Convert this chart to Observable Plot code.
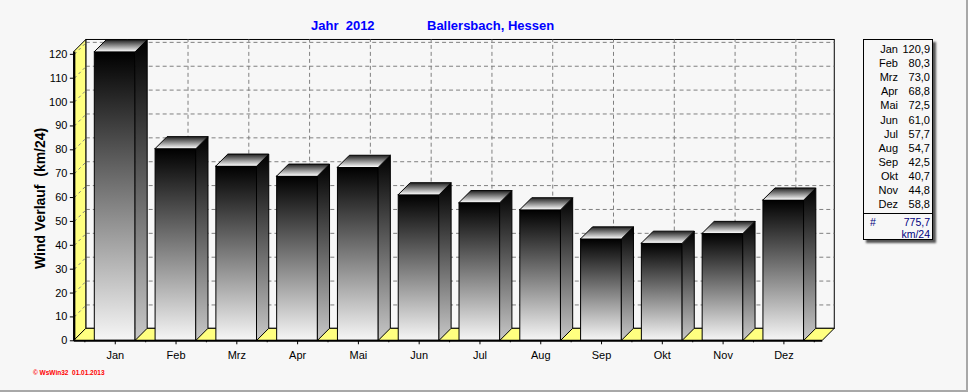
<!DOCTYPE html>
<html><head><meta charset="utf-8">
<script src="https://cdn.jsdelivr.net/npm/d3@7"></script>
<script src="https://cdn.jsdelivr.net/npm/@observablehq/plot@0.6"></script>
<style>
html,body{margin:0;padding:0;background:#f7f7f7;}
#wrap{position:relative;width:968px;height:392px;overflow:hidden;box-sizing:border-box;
  border-right:2px solid #a8a8a8;border-bottom:2px solid #a8a8a8;background:#f7f7f7;
  font-family:"Liberation Sans",Arial,sans-serif;}
#wrap svg.plot{position:absolute;left:0;top:0;}
.title{position:absolute;top:18px;font-size:13px;font-weight:bold;color:#0000ff;line-height:15px;white-space:pre;}
#legend{position:absolute;left:863px;top:39px;width:70px;height:201px;border:1px solid #000;box-sizing:border-box;
  background:#f7f7f7;box-shadow:3px 3px 2px #555;font-size:11px;line-height:14px;color:#000;}
#legend span{position:absolute;white-space:pre;text-align:right;}
#footer{position:absolute;left:33px;top:369.5px;font-size:6.5px;line-height:6.5px;font-weight:bold;color:#ff0000;white-space:pre;}
</style></head>
<body>
<svg width="0" height="0" style="position:absolute">
  <defs>
    <linearGradient id="gFront" x1="0" y1="0" x2="0" y2="1">
      <stop offset="0" stop-color="#000000"/><stop offset="1" stop-color="#f6f6f6"/>
    </linearGradient>
    <linearGradient id="gSide" x1="0" y1="0" x2="0" y2="1">
      <stop offset="0" stop-color="#000000"/><stop offset="1" stop-color="#c8c8c8"/>
    </linearGradient>
    <linearGradient id="gTop" x1="0" y1="0" x2="0" y2="1">
      <stop offset="0" stop-color="#202020"/><stop offset="1" stop-color="#ffffff"/>
    </linearGradient>
  </defs>
</svg>
<div id="wrap"></div>
<script>
// ---- data ----
const months = ["Jan","Feb","Mrz","Apr","Mai","Jun","Jul","Aug","Sep","Okt","Nov","Dez"];
const values = [120.9, 80.3, 73.0, 68.8, 72.5, 61.0, 57.7, 54.7, 42.5, 40.7, 44.8, 58.8];
const yTicks = [0,10,20,30,40,50,60,70,80,90,100,110,120];
const titleYear = "Jahr  2012";
const titlePlace = "Ballersbach, Hessen";
const yLabel = "Wind Verlauf\u00A0 (km/24)";
const unit = "km/24";
const footer = "\u00A9 WsWin32  01.01.2013";

// ---- layout ----
const W = 968, H = 392, mL = 74, mR = 132, mT = 39.6, mB = 51;
const xMin = -0.673, xMax = 11.837, yMax = 126, wallTop = 121;
const pxX = (W - mL - mR) / (xMax - xMin);
const pxY = (H - mT - mB) / yMax;
const dxU = 12 / pxX, dyU = 12 / pxY;
const xFL = xMin, xFR = xMax - dxU;
const hw = 20.5 / pxX;

const bars = months.map((m, i) => ({m, i, v: values[i]}));
const side = bars.flatMap(d => [
  {m: d.m, x: d.i + hw, y1: 0, y2: d.v},
  {m: d.m, x: d.i + hw + dxU, y1: dyU, y2: d.v + dyU}
]);
const topF = bars.flatMap(d => [
  {m: d.m, y: d.v, x1: d.i - hw, x2: d.i + hw},
  {m: d.m, y: d.v + dyU, x1: d.i - hw + dxU, x2: d.i + hw + dxU}
]);
const grid = yTicks.filter(t => t > 0);
const bounds = d3.range(13).map(i => i - 0.5);

const chart = Plot.plot({
  width: W, height: H,
  marginLeft: mL, marginRight: mR, marginTop: mT, marginBottom: mB,
  x: {domain: [xMin, xMax]},
  y: {domain: [0, yMax]},
  style: {background: "transparent", fontFamily: "'Liberation Sans', Arial, sans-serif", fontSize: "11px", color: "black", overflow: "visible"},
  marks: [
    // back wall
    Plot.rect([0], {x1: xFL + dxU, x2: xMax, y1: dyU, y2: wallTop + dyU, fill: "#f7f7f7", stroke: "black"}),
    Plot.ruleY(grid, {y: t => t + dyU, x1: xFL + dxU, x2: xMax, stroke: "#808080", strokeDasharray: "4,3"}),
    Plot.ruleX(bars, {x: d => d.i + dxU, y1: dyU, y2: wallTop + dyU, stroke: "#808080", strokeDasharray: "4,3"}),
    // left wall
    Plot.area([{x: xFL, y1: 0, y2: wallTop}, {x: xFL + dxU, y1: dyU, y2: wallTop + dyU}],
      {x1: "x", y1: "y1", y2: "y2", fill: "#ffff80", stroke: "black"}),
    Plot.link(grid, {x1: xFL, y1: t => t, x2: xFL + dxU, y2: t => t + dyU, stroke: "#808080", strokeDasharray: "3,3"}),
    // floor
    Plot.area([{y: 0, x1: xFL, x2: xFR}, {y: dyU, x1: xFL + dxU, x2: xMax}],
      {y1: "y", x1: "x1", x2: "x2", fill: "#ffff80", stroke: "black"}),
    // bars
    Plot.rect(bars, {x1: d => d.i - hw, x2: d => d.i + hw, y1: 0, y2: "v", fill: "url(#gFront)", stroke: "black"}),
    Plot.area(side, {x1: "x", y1: "y1", y2: "y2", z: "m", fill: "url(#gSide)", stroke: "black"}),
    Plot.area(topF, {y1: "y", x1: "x1", x2: "x2", z: "m", fill: "url(#gTop)", stroke: "black"}),
    // front axis lines
    Plot.ruleY([0], {x1: xFL, x2: xFR, strokeWidth: 2}),
    Plot.ruleX([xFL], {y1: 0, y2: wallTop, strokeWidth: 2}),
    // axes
    Plot.axisY(yTicks, {tickSize: 4, tickPadding: 3, label: null, fontSize: 11}),
    Plot.axisX(bars.map(d => d.i), {tickSize: 4, tickPadding: 6, tickFormat: i => months[i], label: null, fontSize: 11}),
    Plot.axisX(bounds, {tickSize: 2, tickFormat: () => "", label: null}),
    Plot.text([yLabel], {frameAnchor: "left", textAnchor: "middle", rotate: -90, dx: -34, dy: 8, fontSize: 14, fontWeight: "bold"})
  ]
});

const wrap = document.getElementById("wrap");
wrap.appendChild(chart);

function addTitle(text, left) {
  const t = document.createElement("div");
  t.className = "title"; t.textContent = text; t.style.left = left + "px";
  wrap.appendChild(t);
}
addTitle(titleYear, 311);
addTitle(titlePlace, 427);

const fmt = v => v.toFixed(1).replace(".", ",");
const legend = document.createElement("div");
legend.id = "legend";
bars.forEach((d, k) => {
  const top = 2.3 + 14.04 * k;
  const a = document.createElement("span");
  a.textContent = d.m; a.style.cssText = `left:0;width:34px;top:${top}px;`;
  const b = document.createElement("span");
  b.textContent = fmt(d.v); b.style.cssText = `left:30px;width:36px;top:${top}px;`;
  legend.append(a, b);
});
const sep = document.createElement("div");
sep.style.cssText = "position:absolute;left:0;right:0;top:173px;border-top:1px solid #000;";
legend.appendChild(sep);
const total = values.reduce((s, v) => s + v, 0);
const h = document.createElement("span");
h.textContent = "#"; h.style.cssText = "left:6px;top:177px;line-height:11px;font-size:10.5px;color:#000080;text-align:left;";
const tv = document.createElement("span");
tv.textContent = fmt(total); tv.style.cssText = "left:20px;width:46px;top:177px;line-height:11px;font-size:10.5px;color:#000080;";
const tu = document.createElement("span");
tu.textContent = unit; tu.style.cssText = "left:20px;width:46px;top:188.5px;line-height:11px;font-size:10.5px;color:#000080;";
legend.append(h, tv, tu);
wrap.appendChild(legend);

const f = document.createElement("div");
f.id = "footer"; f.textContent = footer;
wrap.appendChild(f);
</script>
</body></html>
